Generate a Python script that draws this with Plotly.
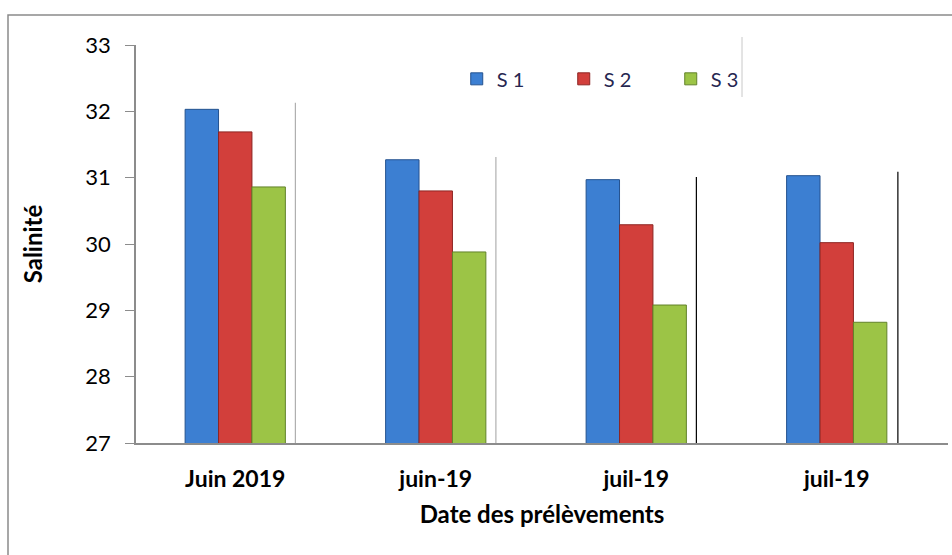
import plotly.graph_objects as go

# Sampling dates (x categories) and salinity per station
dates = ["Juin 2019", "juin-19", "juil-19 ", "juil-19"]
date_labels = ["<b>Juin 2019</b>", "<b>juin-19</b>", "<b>juil-19</b>", "<b>juil-19</b>"]
s1 = [32.03, 31.27, 30.97, 31.03]
s2 = [31.69, 30.80, 30.29, 30.02]
s3 = [30.86, 29.88, 29.08, 28.82]

series = [
    ("S 1", s1, "#3c7fd2", "#24528f"),
    ("S 2", s2, "#d23f3b", "#8e2522"),
    ("S 3", s3, "#9cc446", "#62822a"),
]

fig = go.Figure()
for name, vals, fill, edge in series:
    fig.add_trace(go.Bar(
        name=name, x=dates, y=vals,
        marker=dict(color=fill, line=dict(color=edge, width=1)),
    ))

W, H = 952, 555
L, R, T, B = 136, 4, 45, 112

fig.update_layout(
    width=W, height=H,
    margin=dict(l=L, r=R, t=T, b=B),
    paper_bgcolor="white", plot_bgcolor="white",
    barmode="group", bargap=0.5, bargroupgap=0.0,
    font=dict(family="Lato, Open Sans, sans-serif", color="#000"),
    legend=dict(
        orientation="h", x=0.395, y=0.915, xanchor="left", yanchor="middle",
        font=dict(size=20, color="#262650"), bgcolor="rgba(0,0,0,0)",
        itemwidth=30, entrywidth=62, entrywidthmode="pixels",
    ),
    xaxis=dict(
        type="category", categoryorder="array", categoryarray=dates,
        tickvals=dates, ticktext=date_labels,
        range=[-0.495, 3.555],
        showline=True, linecolor="#8c8c8c", linewidth=2,
        ticks="", showgrid=False, zeroline=False,
        ticklabelstandoff=14,
        tickfont=dict(size=23, family="Lato, sans-serif", color="#000"),
        title=dict(text="<b>Date des prélèvements</b>", font=dict(size=24), standoff=16),
    ),
    yaxis=dict(
        range=[27, 33], dtick=1,
        showline=True, linecolor="#8c8c8c", linewidth=1.5,
        ticks="outside", ticklen=9, tickcolor="#8c8c8c",
        showgrid=False, zeroline=False,
        ticklabelstandoff=10,
        tickfont=dict(size=22, color="#000"),
        title=dict(text="<b>Salinité</b>", font=dict(size=24), standoff=36),
    ),
    showlegend=True,
)

# outer frame of the chart area
fig.add_shape(type="rect", xref="paper", yref="paper",
              x0=(8 - L) / (W - L - R), x1=(W + 10 - L) / (W - L - R),
              y0=-(B + 10) / (H - T - B), y1=(H - 15 - B) / (H - T - B),
              line=dict(color="#8a8a8a", width=1.5), layer="below")

# thin separator lines between groups
seps = [(0.3, 32.13, 27.0, "#b0b0b0"), (1.3, 31.31, 27.0, "#b0b0b0"),
        (2.3, 31.01, 26.9, "#000000"), (3.305, 31.09, 26.9, "#000000")]
for xs, ytop, ybot, col in seps:
    fig.add_shape(type="line", xref="x", yref="y", x0=xs, x1=xs, y0=ybot, y1=ytop,
                  line=dict(color=col, width=1.2))

# divider to the right of the legend
fig.add_shape(type="line", xref="paper", yref="paper",
              x0=(742 - L) / (W - L - R), x1=(742 - L) / (W - L - R),
              y0=(H - 97 - B) / (H - T - B), y1=(H - 37 - B) / (H - T - B),
              line=dict(color="#c8c8c8", width=1))

fig.write_html("out.html")
